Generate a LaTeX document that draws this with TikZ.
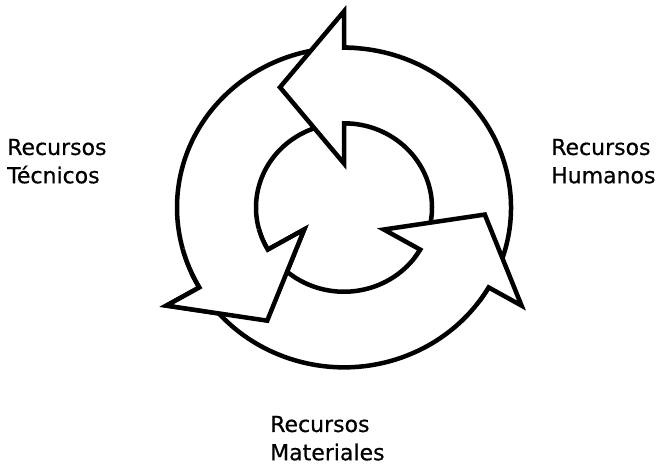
\documentclass[tikz,border=0pt]{standalone}
\usepackage{fontspec}
\setmainfont{DejaVu Sans}
\newfontfamily\lblfont[FakeBold=0.6]{DejaVu Sans}
\newcommand\cyclearrow[1]{%
  (#1:46) -- (#1:88) arc[start angle=#1, end angle=#1-125, radius=88]
  -- (#1-125:167) arc[start angle=#1-125, end angle=#1, radius=167]
  -- (#1:205) -- (#1+27:141) -- cycle}
\begin{document}
\begin{tikzpicture}[x=1pt,y=1pt,
  arrowshape/.style={fill=white, draw=black, line width=4.5pt, miter limit=10},
  lbl/.style={anchor=north west, inner sep=0pt, align=left, font=\lblfont\fontsize{22}{28.3}\selectfont}]
\useasboundingbox (0,-467) rectangle (661,0);
\begin{scope}[shift={(344,-207.5)}, yscale=0.957]
  \path[arrowshape] \cyclearrow{210};
  \path[arrowshape] \cyclearrow{90};
  \path[arrowshape] \cyclearrow{-30};
  \begin{scope}
    \clip (0,0) -- (195:320) -- (230:420) -- (265:320) -- cycle;
    \path[arrowshape] \cyclearrow{210};
  \end{scope}
\end{scope}
\node[lbl] (tec) at (7,-138.7) {Recursos\\Técnicos};
\node[lbl] (hum) at (551,-138.7) {Recursos\\Humanos};
\node[lbl] (mat) at (270,-415.7) {Recursos\\Materiales};
\end{tikzpicture}
\end{document}
